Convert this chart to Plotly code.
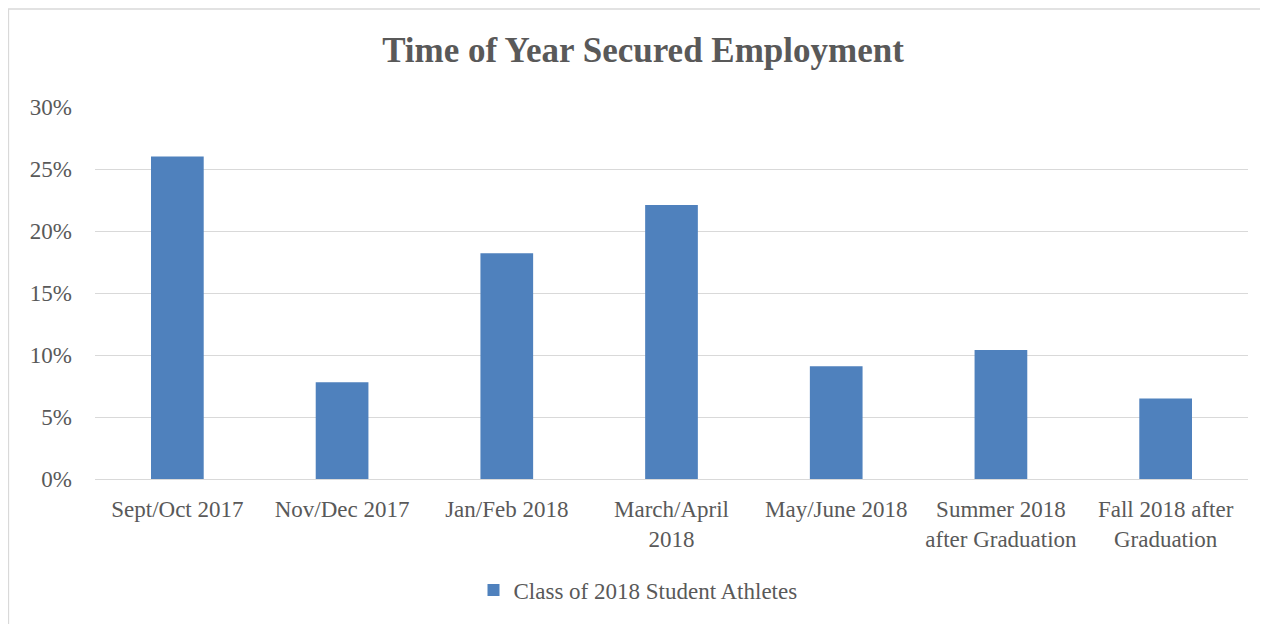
import plotly.graph_objects as go

categories = ["Sept/Oct 2017", "Nov/Dec 2017", "Jan/Feb 2018", "March/April<br>2018",
              "May/June 2018", "Summer 2018<br>after Graduation", "Fall 2018 after<br>Graduation"]
values = [26.0, 7.8, 18.2, 22.1, 9.1, 10.4, 6.5]
series_name = "Class of 2018 Student Athletes"
y_ticks = [0, 5, 10, 15, 20, 25, 30]

W, H = 1268, 624
OFF = 8  # page body margin
L, R, T, B = 95 - OFF, 20 + OFF, 107 - OFF, 145 + OFF
pw, ph = W - L - R, H - T - B
zero_y = H - B  # figure pixel of 0%

font_family = "Liberation Serif, Times New Roman, serif"
grey = "#595959"

fig = go.Figure()
fig.add_trace(go.Bar(
    x=categories, y=values, name=series_name,
    marker=dict(color="#4F81BD", line=dict(width=0)),
    showlegend=True,
))

fig.update_layout(
    width=W, height=H,
    margin=dict(l=L, r=R, t=T, b=B, autoexpand=False),
    paper_bgcolor="white", plot_bgcolor="white",
    bargap=0.68,
    font=dict(family=font_family, color=grey, size=23),
    title=dict(text="<b>Time of Year Secured Employment</b>", x=(643 - OFF) / W, xanchor="center",
               y=1 - (50 - OFF) / H, yanchor="middle", font=dict(size=35, color=grey, family=font_family)),
    xaxis=dict(showgrid=False, showline=False, ticks="", tickfont=dict(size=23, color=grey),
               tickangle=0, ticklabelstandoff=14),
    yaxis=dict(range=[0, 30], tickvals=y_ticks, ticktext=[f"{v}%" for v in y_ticks],
               showgrid=True, gridcolor="#d9d9d9", gridwidth=1.3, zeroline=True,
               zerolinecolor="#d9d9d9", zerolinewidth=1.3, showline=False, ticks="",
               tickfont=dict(size=23, color=grey), ticklabelstandoff=22),
    legend=dict(orientation="h", x=(638 - OFF - L) / pw, xanchor="center",
                y=-((590 - OFF) - zero_y) / ph,
                yanchor="middle", font=dict(size=23, color=grey), itemwidth=30),
    shapes=[dict(type="rect", xref="paper", yref="paper",
                 x0=(0.5 - L) / pw, x1=1.2, y0=-0.6, y1=(zero_y - 1) / ph,
                 line=dict(color="#d9d9d9", width=1.3), fillcolor="rgba(0,0,0,0)", layer="below")],
)

fig.write_html("out.html")
